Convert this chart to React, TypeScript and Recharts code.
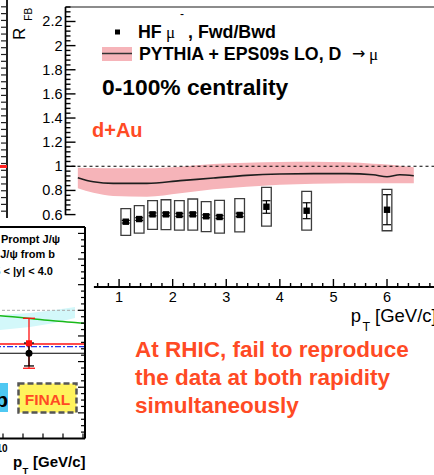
import React from "react";
import {
  ComposedChart,
  Area,
  Line,
  Scatter,
  XAxis,
  YAxis,
  ReferenceLine,
  ReferenceArea,
  ErrorBar,
} from "recharts";

const FONT = "'Liberation Sans', Arial, Helvetica, sans-serif";
const SERIF = "'Liberation Serif', 'DejaVu Serif', serif";
const RED_TXT = "#ff4a24";
const BAND_PINK = "#f6b4b9";

// ---- main panel: HF muon R_FB vs pT (d+Au) ----
const ptBins = [1.125, 1.375, 1.625, 1.875, 2.125, 2.375, 2.625, 2.875, 3.25, 3.75, 4.5, 6.0];
const rfb = [0.541, 0.563, 0.602, 0.602, 0.597, 0.602, 0.586, 0.58, 0.597, 0.665, 0.632, 0.64];
const statLo = [0.53, 0.552, 0.59, 0.59, 0.585, 0.59, 0.574, 0.568, 0.583, 0.611, 0.566, 0.516];
const statHi = [0.552, 0.574, 0.614, 0.614, 0.609, 0.614, 0.598, 0.592, 0.611, 0.715, 0.698, 0.765];
const sysLo = [0.428, 0.447, 0.478, 0.475, 0.472, 0.472, 0.458, 0.447, 0.456, 0.505, 0.472, 0.466];
const sysHi = [0.649, 0.674, 0.715, 0.723, 0.715, 0.729, 0.707, 0.718, 0.732, 0.826, 0.793, 0.809];
const SYS_HALF_WIDTH = 0.09;

const pythiaPt = [0.23, 0.52, 0.89, 1.52, 2.14, 2.76, 3.38, 4.0, 4.63, 5.25, 5.74, 6.0, 6.24, 6.5];
const pythiaMid = [0.906, 0.872, 0.859, 0.859, 0.881, 0.903, 0.925, 0.936, 0.939, 0.939, 0.93, 0.914, 0.93, 0.922];
const pythiaLo = [0.818, 0.78, 0.754, 0.748, 0.776, 0.809, 0.831, 0.848, 0.856, 0.859, 0.86, 0.86, 0.86, 0.859];
const pythiaHi = [0.988, 0.985, 0.983, 0.983, 0.997, 1.019, 1.03, 1.036, 1.038, 1.033, 1.022, 1.016, 1.005, 0.992];

const Y_MAX = 2.32;
const X_MAX = 7;
const yMajorTicks = [0.6, 0.8, 1, 1.2, 1.4, 1.6, 1.8, 2, 2.2];
const yMajorLabels = ["0.6", "0.8", "1", "1.2", "1.4", "1.6", "1.8", "2", "2.2"];
const xMajorTicks = [1, 2, 3, 4, 5, 6];
const xMajorLabels = ["1", "2", "3", "4", "5", "6"];

const yTicks: number[] = [];
for (let i = 0; i <= 43; i++) yTicks.push(Math.round((0.6 + i * 0.04) * 100) / 100);
const xTicks: number[] = [];
for (let i = 0; i <= 31; i++) xTicks.push(Math.round((0.6 + i * 0.2) * 10) / 10);

// ---- lower-left panel: J/psi (cropped) ----
const jpsiPt = [6.85, 9.85, 11.35, 12.5, 13.6, 14.1];
const jpsiCurve = [0.975, 0.958, 0.937, 0.918, 0.905, 0.899];
const jpsiBandLo = [0.835, 0.846, 0.87, 0.9, 0.94, null];
const jpsiBandHi = [0.955, 0.963, 0.979, 1.0, 1.026, null];
const promptPt = [11.3];
const promptR = [0.743];
const promptLo = [0.548];
const promptHi = [0.938];
const fromBPt = [11.3];
const fromBR = [0.665];
const fromBLo = [0.566];
const fromBHi = [0.745];
const promptModel = 0.737;
const fromBModel = 0.716;
const blackModel = 0.665;
const J_Y_MAX = 1.65;
const jpsiXTicks = [7, 8, 9, 10, 11, 12, 13, 14];
const jpsiXLabelTicks = [10];
const jpsiXLabels = ["10"];
const jpsiYTicks: number[] = [];
for (let i = 1; i <= 32; i++) jpsiYTicks.push(Math.round(i * 5) / 100);

// ---- left sliver panel ----
const sliverY = [0.756];
const sliverTicks: number[] = [];
for (let i = 1; i <= 31; i++) sliverTicks.push(Math.round(i * 10) / 100);

const pythiaRows = pythiaPt.map((pt, i) => ({
  pt,
  mid: pythiaMid[i],
  band: [pythiaLo[i], pythiaHi[i]],
}));
const hfRows = ptBins.map((pt, i) => ({
  pt,
  r: rfb[i],
  stat: [rfb[i] - statLo[i], statHi[i] - rfb[i]],
}));
const jpsiRows = jpsiPt.map((pt, i) => ({
  pt,
  curve: jpsiCurve[i],
  band: jpsiBandLo[i] == null ? null : [jpsiBandLo[i], jpsiBandHi[i]],
}));
const promptRows = promptPt.map((pt, i) => ({
  pt,
  v: promptR[i],
  err: [promptR[i] - promptLo[i], promptHi[i] - promptR[i]],
}));
const fromBRows = fromBPt.map((pt, i) => ({
  pt,
  v: fromBR[i],
  err: [fromBR[i] - fromBLo[i], fromBHi[i] - fromBR[i]],
}));
const sliverRows = sliverY.map((y) => ({ x: 0.96, y }));

const near = (a: number, b: number) => Math.abs(a - b) < 1e-6;

function YTick(props: any) {
  const { x, y, payload } = props;
  const idx = yMajorTicks.findIndex((m) => near(m, payload.value));
  const major = idx >= 0;
  return (
    <g>
      <line x1={x} x2={x + (major ? 10 : 5)} y1={y} y2={y} stroke="#000" strokeWidth={1.4} />
      {major && (
        <text x={x - 3} y={y + 5} textAnchor="end" fontSize={14.5} fontFamily={FONT} fill="#000">
          {yMajorLabels[idx]}
        </text>
      )}
    </g>
  );
}

function XTick(props: any) {
  const { x, y, payload } = props;
  const idx = xMajorTicks.findIndex((m) => near(m, payload.value));
  const major = idx >= 0;
  return (
    <g>
      <line x1={x} x2={x} y1={y} y2={y - (major ? 8 : 4)} stroke="#000" strokeWidth={1.4} />
      {major && (
        <text x={x} y={y + 15} textAnchor="middle" fontSize={14.5} fontFamily={FONT} fill="#000">
          {xMajorLabels[idx]}
        </text>
      )}
    </g>
  );
}

function JpsiXTick(props: any) {
  const { x, y, payload } = props;
  const idx = jpsiXLabelTicks.findIndex((m) => near(m, payload.value));
  return (
    <g>
      <line x1={x} x2={x} y1={y} y2={y - 5} stroke="#000" strokeWidth={1.2} />
      {idx >= 0 && (
        <text x={x + 4.5} y={y + 13.5} textAnchor="end" fontSize={10} fontWeight="bold" fontFamily={FONT} fill="#000">
          {jpsiXLabels[idx]}
        </text>
      )}
    </g>
  );
}

function JpsiYTick(props: any) {
  const { x, y, payload } = props;
  const major = near((Math.round(payload.value * 100) % 20) / 100, 0);
  return <line x1={x} x2={x - (major ? 7 : 4)} y1={y} y2={y} stroke="#000" strokeWidth={1.2} />;
}

function SliverTick(props: any) {
  const { x, y } = props;
  return <line x1={x} x2={x - 6} y1={y} y2={y} stroke="#222" strokeWidth={1.2} />;
}

export default function App() {
  return (
    <div
      style={{
        position: "absolute",
        left: 0,
        top: 0,
        width: 434,
        height: 475,
        overflow: "hidden",
        background: "#fff",
      }}
    >
      {/* main panel */}
      <div style={{ position: "absolute", left: 0, top: 0 }}>
        <ComposedChart
          width={460}
          height={475}
          data={pythiaRows}
          margin={{ top: 7, right: 19.4, bottom: 158, left: 0 }}
        >
          <XAxis
            type="number"
            dataKey="pt"
            domain={[0, X_MAX]}
            ticks={xTicks}
            interval={0}
            tick={(p: any) => <XTick {...p} />}
            tickLine={false}
            axisLine={false}
            tickSize={0}
            tickMargin={0}
            height={30}
            allowDataOverflow
          />
          <YAxis
            type="number"
            domain={[0, Y_MAX]}
            ticks={yTicks}
            interval={0}
            tick={(p: any) => <YTick {...p} />}
            tickLine={false}
            axisLine={false}
            tickSize={0}
            tickMargin={0}
            width={65.5}
            allowDataOverflow
          />
          <Area
            dataKey="band"
            type="monotone"
            fill={BAND_PINK}
            fillOpacity={1}
            stroke="none"
            isAnimationActive={false}
          />
          <Line
            dataKey="mid"
            type="monotone"
            stroke="#1e1e1e"
            strokeWidth={1.6}
            dot={false}
            isAnimationActive={false}
          />
          <ReferenceLine y={1} stroke="#000" strokeWidth={1.1} strokeDasharray="3 3" />
          <ReferenceLine y={Y_MAX} stroke="#666" strokeWidth={1.5} />
          <ReferenceLine
            segment={[{ x: 0, y: 0.595 }, { x: 0, y: Y_MAX }]}
            stroke="#000"
            strokeWidth={1.7}
            ifOverflow="visible"
          />
          <ReferenceLine
            segment={[{ x: 0.53, y: 0 }, { x: X_MAX, y: 0 }]}
            stroke="#000"
            strokeWidth={2}
            ifOverflow="visible"
          />
          {ptBins.map((pt, i) => (
            <ReferenceArea
              key={pt}
              x1={pt - SYS_HALF_WIDTH}
              x2={pt + SYS_HALF_WIDTH}
              y1={sysLo[i]}
              y2={sysHi[i]}
              fill="none"
              stroke="#3c3c3c"
              strokeWidth={1.3}
              ifOverflow="visible"
            />
          ))}
          <Scatter
            data={hfRows}
            dataKey="r"
            isAnimationActive={false}
            shape={(p: any) => <rect x={p.cx - 3.2} y={p.cy - 3.2} width={6.4} height={6.4} fill="#000" />}
          >
            <ErrorBar dataKey="stat" direction="y" width={4} stroke="#000" strokeWidth={1.2} />
          </Scatter>
        </ComposedChart>
      </div>

      {/* lower-left J/psi panel */}
      <div style={{ position: "absolute", left: -60, top: 0 }}>
        <ComposedChart
          width={146}
          height={475}
          data={jpsiRows}
          margin={{ top: 227, right: 0, bottom: 16.5, left: 0 }}
        >
          <XAxis
            type="number"
            dataKey="pt"
            domain={[6.85, 14.1]}
            ticks={jpsiXTicks}
            interval={0}
            tick={(p: any) => <JpsiXTick {...p} />}
            tickLine={false}
            tickSize={0}
            tickMargin={0}
            axisLine={{ stroke: "#000", strokeWidth: 2 }}
            height={20}
            allowDataOverflow
          />
          <YAxis
            type="number"
            orientation="right"
            domain={[0, J_Y_MAX]}
            ticks={jpsiYTicks}
            interval={0}
            tick={(p: any) => <JpsiYTick {...p} />}
            tickLine={false}
            tickSize={0}
            tickMargin={0}
            axisLine={{ stroke: "#000", strokeWidth: 2 }}
            width={1}
            allowDataOverflow
          />
          <Area
            dataKey="band"
            type="linear"
            fill="#d3f8fa"
            fillOpacity={1}
            stroke="none"
            isAnimationActive={false}
          />
          <ReferenceLine y={1} stroke="#aaa" strokeWidth={1} strokeDasharray="3 2" />
          <ReferenceLine y={J_Y_MAX} stroke="#000" strokeWidth={2} />
          <Line
            dataKey="curve"
            type="monotone"
            stroke="#19b919"
            strokeWidth={1.5}
            dot={false}
            isAnimationActive={false}
          />
          <ReferenceLine y={blackModel} stroke="#000" strokeWidth={1.2} />
          <ReferenceLine y={fromBModel} stroke="#2233ee" strokeWidth={1.2} strokeDasharray="6 2 2 2" />
          <ReferenceLine y={promptModel} stroke="#ff1010" strokeWidth={1.5} />
          <Scatter
            data={promptRows}
            dataKey="v"
            isAnimationActive={false}
            shape={(p: any) => <rect x={p.cx - 3} y={p.cy - 3} width={6} height={6} fill="#ff1010" />}
          >
            <ErrorBar dataKey="err" direction="y" width={6} stroke="#ff1010" strokeWidth={1.3} />
          </Scatter>
          <Scatter
            data={fromBRows}
            dataKey="v"
            isAnimationActive={false}
            shape={(p: any) => <circle cx={p.cx} cy={p.cy} r={3.5} fill="#000" />}
          >
            <ErrorBar dataKey="err" direction="y" width={5} stroke="#000" strokeWidth={1.3} />
          </Scatter>
        </ComposedChart>
      </div>

      {/* left sliver panel */}
      <div style={{ position: "absolute", left: -80, top: 0 }}>
        <ComposedChart width={88} height={218} data={sliverRows} margin={{ top: 0, right: 0, bottom: 0, left: 0 }}>
          <XAxis type="number" dataKey="x" domain={[0, 1]} hide />
          <YAxis
            type="number"
            orientation="right"
            domain={[0, 3.2]}
            ticks={sliverTicks}
            interval={0}
            tick={(p: any) => <SliverTick {...p} />}
            tickLine={false}
            tickSize={0}
            tickMargin={0}
            axisLine={{ stroke: "#222", strokeWidth: 2 }}
            width={1}
          />
          <Scatter
            dataKey="y"
            isAnimationActive={false}
            shape={(p: any) => <rect x={p.cx - 4} y={p.cy - 1.5} width={7.5} height={3} fill="#ff2020" />}
          />
        </ComposedChart>
      </div>

      {/* annotations */}
      <svg
        width={434}
        height={475}
        style={{ position: "absolute", left: 0, top: 0, pointerEvents: "none" }}
        fontFamily={FONT}
      >
        <text transform="translate(25,40) rotate(-90)" fontSize={17} fill="#000">R</text>
        <text transform="translate(32.3,20.7) rotate(-90)" fontSize={10} fill="#000">FB</text>

        <rect x={115} y={29.5} width={5} height={5} fill="#000" />
        <text y={37.7} fontSize={17.8} fontWeight="bold" fill="#000">
          <tspan x={138}>HF </tspan>
          <tspan x={166} fontFamily={SERIF} fontWeight="normal" fontSize={17}>μ</tspan>
          <tspan x={180} y={18} fontWeight="normal" fontSize={12}>-</tspan>
          <tspan x={188} y={37.7}>, Fwd/Bwd</tspan>
        </text>
        <rect x={102} y={47} width={30} height={14} fill={BAND_PINK} />
        <line x1={102} x2={132} y1={53.5} y2={53.5} stroke="#333" strokeWidth={1.5} />
        <text x={139} y={59.5} fontSize={17.8} fontWeight="bold" fill="#000">PYTHIA + EPS09s LO, D</text>
        <text x={352} y={58.5} fontSize={16} fontFamily="'DejaVu Sans', sans-serif" fill="#000">→</text>
        <text x={369} y={59.5} fontSize={17} fontFamily={SERIF} fill="#000">μ</text>

        <text x={102} y={94.5} fontSize={22.8} fontWeight="bold" fill="#000">0-100% centrality</text>
        <text x={92} y={136.7} fontSize={20} fontWeight="bold" fill={RED_TXT}>d+Au</text>

        <text y={321.5} fontSize={18.5} fill="#000">
          <tspan x={350.7}>p</tspan>
          <tspan x={362.5} y={330.5} fontSize={12.5}>T</tspan>
          <tspan x={375} y={321.5}>[GeV/c]</tspan>
        </text>

        <text fontSize={22.5} fontWeight="bold" fill={RED_TXT}>
          <tspan x={135} y={357.3}>At RHIC, fail to reproduce</tspan>
          <tspan x={135} y={385.3}>the data at both rapidity</tspan>
          <tspan x={135} y={413.3}>simultaneously</tspan>
        </text>

        <text fontSize={11} fontWeight="bold" fill="#000" textAnchor="end">
          <tspan x={60} y={243.3}>Prompt J/ψ</tspan>
          <tspan x={55} y={258.3}>J/ψ from b</tspan>
          <tspan x={53} y={275}>2.5 &lt; |y| &lt; 4.0</tspan>
        </text>

        <rect x={-6} y={383} width={14} height={29} fill="#4fc8f2" />
        <text x={8} y={407} textAnchor="end" fontSize={21} fontWeight="bold" fill="#000">Pb</text>

        <rect
          x={18.5}
          y={383.5}
          width={58}
          height={29}
          fill="#fff35c"
          stroke="#555"
          strokeWidth={2.5}
          strokeDasharray="6 3"
        />
        <text x={47.5} y={404.5} textAnchor="middle" fontSize={15.5} fontWeight="bold" fill={RED_TXT}>FINAL</text>

        <text fontWeight="bold" fill="#000">
          <tspan x={13} y={467} fontSize={15}>p</tspan>
          <tspan x={22.5} y={474} fontSize={9.5}>T</tspan>
          <tspan x={33} y={467} fontSize={15}>[GeV/c]</tspan>
        </text>
      </svg>
    </div>
  );
}
